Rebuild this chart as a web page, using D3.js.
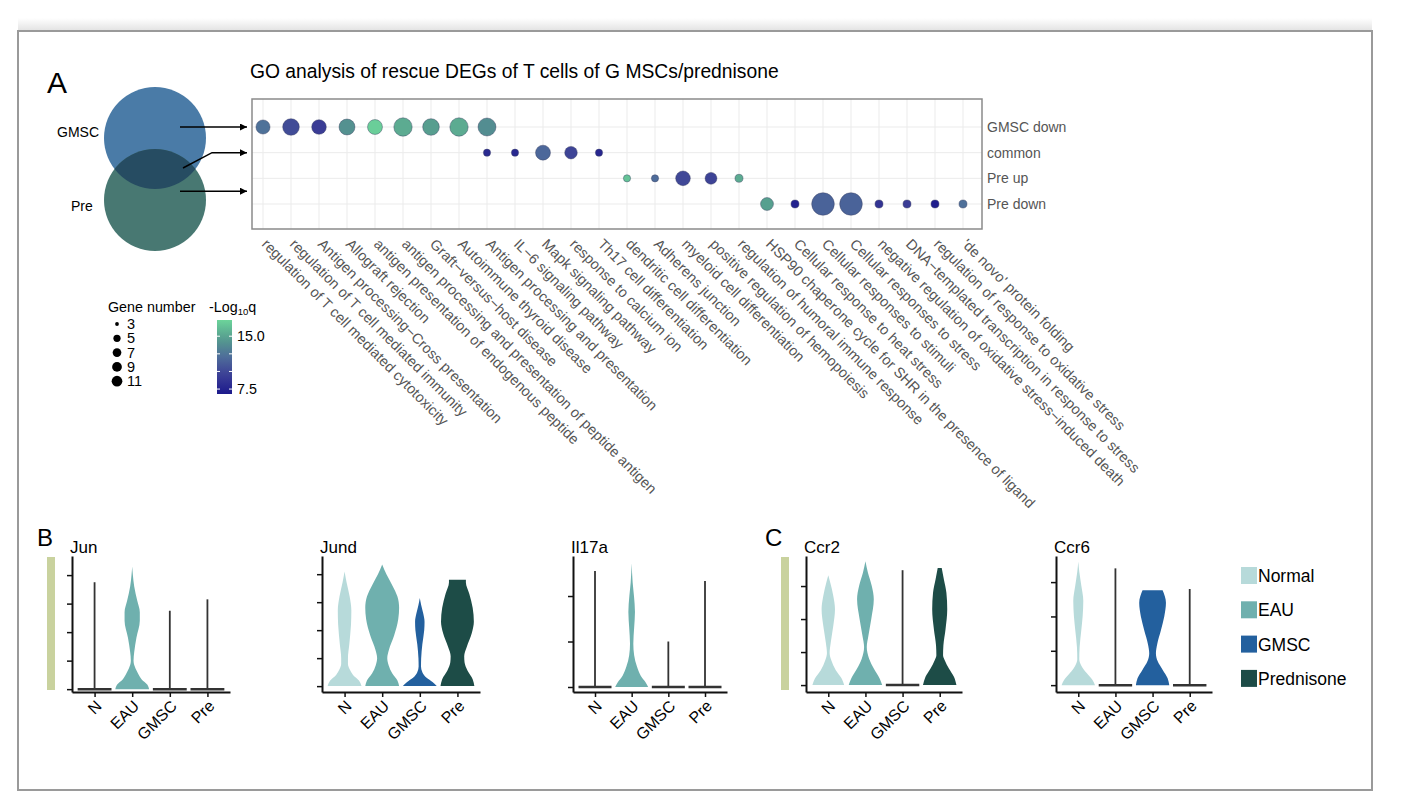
<!DOCTYPE html>
<html>
<head>
<meta charset="utf-8">
<script src="https://cdn.jsdelivr.net/npm/d3@7/dist/d3.min.js"></script>
<style>
    body { margin: 0; background: #fff; }
    svg { font-family: "Liberation Sans", Arial, sans-serif; }
</style>
</head>
<body>
<div id="fig"></div>
<script>
// ---- panel A: GO dot plot ----
var goTerms = [
    "regulation of T cell mediated cytotoxicity",
    "regulation of T cell mediated immunity",
    "Antigen processing\u2212Cross presentation",
    "Allograft rejection",
    "antigen presentation of endogenous peptide",
    "antigen processing and presentation of peptide antigen",
    "Graft\u2212versus\u2212host disease",
    "Autoimmune thyroid disease",
    "Antigen processing and presentation",
    "IL\u22126 signaling pathway",
    "Mapk signaling pathway",
    "response to calcium ion",
    "Th17 cell differentiation",
    "dendritic cell differentiation",
    "Adherens junction",
    "myeloid cell differentiation",
    "positive regulation of hemopoiesis",
    "regulation of humoral immune response",
    "HSP90 chaperone cycle for SHR in the presence of ligand",
    "Cellular response to heat stress",
    "Cellular responses to stimuli",
    "Cellular responses to stress",
    "negative regulation of oxidative stress\u2212induced death",
    "DNA\u2212templated transcription in response to stress",
    "regulation of response to oxidative stress",
    "'de novo' protein folding"
];
var rowNames = ["GMSC down", "common", "Pre up", "Pre down"];

var gmscDownTerms = [0, 1, 2, 3, 4, 5, 6, 7, 8];
var gmscDownGenes = [21, 31, 23, 28, 24, 39, 31, 39, 37];
var gmscDownLogQ = [12.3, 10.2, 9.3, 14.0, 17.0, 15.3, 14.7, 15.3, 13.8];

var commonTerms = [8, 9, 10, 11, 12];
var commonGenes = [5, 5, 24, 16, 5];
var commonLogQ = [8.0, 7.8, 11.7, 9.8, 7.7];

var preUpTerms = [13, 14, 15, 16, 17];
var preUpGenes = [5, 5, 23, 14, 6];
var preUpLogQ = [16.5, 12.0, 10.0, 9.7, 15.3];

var preDownTerms = [18, 19, 20, 21, 22, 23, 24, 25];
var preDownGenes = [17, 6, 63, 63, 6, 6, 6, 6];
var preDownLogQ = [14.8, 7.4, 11.5, 11.5, 8.7, 9.3, 7.1, 12.2];

var sizeBreaks = [3, 5, 7, 9, 11];
var colorBreaks = [15.0, 7.5];
var colorTicks = [7.5, 10, 12.5, 15];

var vennSets = ["GMSC", "Pre"];

// ---- panels B / C: violins ----
var vlnGroups = ["N", "EAU", "GMSC", "Pre"];
var legendNames = ["Normal", "EAU", "GMSC", "Prednisone"];
var vlnColors = ["#b7dada", "#6fb0ae", "#23609e", "#1d4c47"];

var geneNames = ["Jun", "Jund", "Il17a", "Ccr2", "Ccr6"];
var geneTicks = [[0, 1, 2, 3, 4], [0, 1, 2, 3, 4], [0, 1, 2], [0, 1, 2, 3], [0, 1, 2, 3]];
var geneDomains = [[-0.1, 4.67], [-0.21, 4.65], [-0.11, 2.88], [-0.21, 3.91], [-0.2, 3.76]];

// a number = nearly all zero, a thin spike up to that value
// an array = [expression, relative half width]
var junViolins = [3.75,
    [[0, 1], [0.15, 0.9], [0.35, 0.55], [0.6, 0.3], [0.85, 0.12], [1.0, 0.08], [1.3, 0.12], [1.8, 0.25],
     [2.4, 0.45], [2.7, 0.45], [3.1, 0.3], [3.6, 0.12], [4.0, 0.04], [4.3, 0]],
    2.75, 3.15];
var jundViolins = [
    [[0, 1], [0.2, 0.85], [0.4, 0.5], [0.6, 0.3], [0.8, 0.2], [1.0, 0.2], [1.5, 0.28], [2.2, 0.38],
     [2.7, 0.4], [3.2, 0.3], [3.7, 0.12], [4.1, 0]],
    [[0, 1], [0.2, 0.9], [0.45, 0.6], [0.75, 0.38], [1.0, 0.3], [1.3, 0.4], [1.8, 0.7], [2.4, 0.95],
     [2.8, 1.0], [3.2, 0.9], [3.6, 0.6], [4.0, 0.25], [4.35, 0]],
    [[0, 1], [0.15, 0.75], [0.3, 0.4], [0.5, 0.15], [0.7, 0.07], [1.0, 0.08], [1.5, 0.15], [2.0, 0.26],
     [2.3, 0.28], [2.6, 0.2], [2.9, 0.08], [3.15, 0]],
    [[0, 1], [0.25, 0.9], [0.55, 0.6], [0.85, 0.42], [1.07, 0.4], [1.4, 0.55], [1.9, 0.85], [2.3, 0.97],
     [2.8, 0.9], [3.3, 0.7], [3.7, 0.5], [3.8, 0.5]]
];
var il17aViolins = [2.55,
    [[0, 1], [0.1, 0.85], [0.25, 0.55], [0.45, 0.32], [0.7, 0.15], [0.95, 0.1], [1.3, 0.15], [1.65, 0.2],
     [2.0, 0.14], [2.3, 0.06], [2.72, 0]],
    1.0, 2.33];
var ccr2Violins = [
    [[0, 0.95], [0.2, 0.8], [0.45, 0.45], [0.75, 0.18], [0.97, 0.08], [1.3, 0.15], [1.8, 0.3], [2.3, 0.4],
     [2.7, 0.3], [3.1, 0.12], [3.33, 0]],
    [[0, 1], [0.2, 0.85], [0.5, 0.5], [0.8, 0.22], [1.15, 0.08], [1.5, 0.18], [2.0, 0.35], [2.6, 0.5],
     [3.0, 0.38], [3.4, 0.15], [3.75, 0]],
    3.48,
    [[0, 1], [0.25, 0.85], [0.5, 0.55], [0.75, 0.3], [0.9, 0.2], [1.2, 0.22], [1.7, 0.35], [2.3, 0.45],
     [2.8, 0.4], [3.2, 0.25], [3.55, 0.12]]
];
var ccr6Violins = [
    [[0, 1], [0.15, 0.85], [0.35, 0.5], [0.55, 0.2], [0.75, 0.06], [1.1, 0.08], [1.6, 0.18], [2.0, 0.26],
     [2.45, 0.3], [2.9, 0.18], [3.3, 0.06], [3.6, 0]],
    3.4,
    [[0, 1], [0.2, 0.9], [0.45, 0.6], [0.7, 0.3], [0.93, 0.2], [1.2, 0.28], [1.6, 0.5], [2.0, 0.7],
     [2.4, 0.8], [2.76, 0.6]],
    2.8
];
var geneViolins = [junViolins, jundViolins, il17aViolins, ccr2Violins, ccr6Violins];

// plot extents (layout only)
var plotX = [[72, 230], [322, 480], [573, 727], [806, 962], [1056, 1212]];

window.onload = function () {
    drawFigure();
}

function drawFigure() {
    var svg = d3.select("#fig").append("svg")
        .attr("width", 1406)
        .attr("height", 810);

    var defs = svg.append("defs");

    // frame with a soft shadow on top
    var sh = defs.append("linearGradient").attr("id", "shadow")
        .attr("x1", 0).attr("y1", 0).attr("x2", 0).attr("y2", 1);
    sh.append("stop").attr("offset", "0%").attr("stop-color", "#ffffff");
    sh.append("stop").attr("offset", "100%").attr("stop-color", "#e2e2e2");
    svg.append("rect").attr("x", 18).attr("y", 18).attr("width", 1354).attr("height", 13)
        .attr("fill", "url(#shadow)");
    svg.append("rect").attr("x", 18).attr("y", 31).attr("width", 1354).attr("height", 759)
        .attr("fill", "#fff").attr("stroke", "#9a9a9a").attr("stroke-width", 2);

    // ---------- A ----------
    svg.append("text").attr("x", 47).attr("y", 93).attr("font-size", 30).text("A");
    svg.append("text").attr("x", 250).attr("y", 78).attr("font-size", 19.3)
        .text("GO analysis of rescue DEGs of T cells of G MSCs/prednisone");

    var xScale = d3.scalePoint().domain(d3.range(goTerms.length)).range([263, 963]);
    var yScale = d3.scalePoint().domain(rowNames).range([127, 204]);
    var boxL = 252, boxR = 982, boxT = 99, boxB = 229;

    var sizeScale = d3.scaleSqrt().domain([0, 61]).range([0, 9.5]);
    function radius(n) { return 1.9 + sizeScale(n - 3); }
    var color = d3.scaleLinear()
        .domain([6.8, 9.5, 12, 14.5, 17.3])
        .range(["#1c1a8c", "#3c3f96", "#4e6c9a", "#559a8e", "#6cd49a"]);

    var dots = [];
    [[gmscDownTerms, gmscDownGenes, gmscDownLogQ],
     [commonTerms, commonGenes, commonLogQ],
     [preUpTerms, preUpGenes, preUpLogQ],
     [preDownTerms, preDownGenes, preDownLogQ]].forEach(function (s, r) {
        s[0].forEach(function (t, i) {
            dots.push({ term: t, row: rowNames[r], genes: s[1][i], q: s[2][i] });
        });
    });

    var plot = svg.append("g");
    plot.selectAll(".vgrid").data(xScale.domain()).enter().append("line")
        .attr("x1", function (d) { return xScale(d); })
        .attr("x2", function (d) { return xScale(d); })
        .attr("y1", boxT).attr("y2", boxB)
        .attr("stroke", "#ebebeb").attr("stroke-width", 1);
    plot.selectAll(".hgrid").data(rowNames).enter().append("line")
        .attr("x1", boxL).attr("x2", boxR)
        .attr("y1", function (d) { return yScale(d); })
        .attr("y2", function (d) { return yScale(d); })
        .attr("stroke", "#ebebeb").attr("stroke-width", 1);

    plot.selectAll("circle").data(dots).enter().append("circle")
        .attr("cx", function (d) { return xScale(d.term); })
        .attr("cy", function (d) { return yScale(d.row); })
        .attr("r", function (d) { return radius(d.genes); })
        .attr("fill", function (d) { return color(d.q); })
        .attr("stroke", "#3a3f60").attr("stroke-width", 0.6).attr("stroke-opacity", 0.7);

    plot.append("rect").attr("x", boxL).attr("y", boxT)
        .attr("width", boxR - boxL).attr("height", boxB - boxT)
        .attr("fill", "none").attr("stroke", "#8a8a8a").attr("stroke-width", 1.5);

    plot.selectAll(".rowlab").data(rowNames).enter().append("text")
        .attr("x", boxR + 5)
        .attr("y", function (d) { return yScale(d); })
        .attr("dy", "0.35em")
        .attr("font-size", 14).attr("fill", "#555")
        .text(function (d) { return d; });

    plot.selectAll(".golab").data(goTerms).enter().append("text")
        .attr("transform", function (d, i) {
            return "translate(" + (xScale(i) - 2) + "," + (boxB + 16) + ") rotate(45)";
        })
        .attr("font-size", 14.5).attr("fill", "#555")
        .text(function (d) { return d; });

    // Venn
    var vy = d3.scalePoint().domain(vennSets).range([138, 200]);
    var vcx = 155, vr = 51;
    var vennColors = ["#4a7ba7", "#487872"];
    svg.selectAll(".venn").data(vennSets).enter().append("circle")
        .attr("cx", vcx).attr("cy", function (d) { return vy(d); }).attr("r", vr)
        .attr("fill", function (d, i) { return vennColors[i]; });
    defs.append("clipPath").attr("id", "clipG").append("circle")
        .attr("cx", vcx).attr("cy", vy("GMSC")).attr("r", vr);
    svg.append("circle").attr("cx", vcx).attr("cy", vy("Pre")).attr("r", vr)
        .attr("clip-path", "url(#clipG)").attr("fill", "#264c62");
    svg.append("text").attr("x", 57).attr("y", vy("GMSC") - 1).attr("font-size", 14).text("GMSC");
    svg.append("text").attr("x", 71).attr("y", vy("Pre") + 11).attr("font-size", 14).text("Pre");

    defs.append("marker").attr("id", "arrow").attr("viewBox", "0 0 10 10")
        .attr("refX", 10).attr("refY", 5).attr("markerWidth", 7).attr("markerHeight", 7)
        .attr("markerUnits", "userSpaceOnUse").attr("orient", "auto")
        .append("path").attr("d", "M0,0L10,5L0,10Z").attr("fill", "#000");
    var arrowEnd = boxL - 5;
    var arrows = [
        [[180, yScale("GMSC down")], [arrowEnd, yScale("GMSC down")]],
        [[183, 168], [212, yScale("common")], [arrowEnd, yScale("common")]],
        [[180, (yScale("Pre up") + yScale("Pre down")) / 2], [arrowEnd, (yScale("Pre up") + yScale("Pre down")) / 2]]
    ];
    svg.selectAll(".arrow").data(arrows).enter().append("path")
        .attr("d", d3.line())
        .attr("fill", "none").attr("stroke", "#000").attr("stroke-width", 1.5)
        .attr("marker-end", "url(#arrow)");

    // size legend
    var leg = svg.append("g");
    leg.append("text").attr("x", 108).attr("y", 312).attr("font-size", 14.3).text("Gene number");
    leg.selectAll(".sz").data(sizeBreaks).enter().append("circle")
        .attr("cx", 117).attr("cy", function (d, i) { return 324 + i * 14.3; })
        .attr("r", radius).attr("fill", "#000");
    leg.selectAll(".szl").data(sizeBreaks).enter().append("text")
        .attr("x", 127).attr("y", function (d, i) { return 324 + i * 14.3; })
        .attr("dy", "0.35em").attr("font-size", 14.5).text(function (d) { return d; });

    // colour bar
    var cbY = d3.scaleLinear().domain([6.8, 17.3]).range([394, 320]);
    var grad = defs.append("linearGradient").attr("id", "cbar")
        .attr("x1", 0).attr("y1", 1).attr("x2", 0).attr("y2", 0);
    d3.range(0, 1.001, 0.1).forEach(function (t) {
        grad.append("stop").attr("offset", (t * 100) + "%")
            .attr("stop-color", color(6.8 + t * (17.3 - 6.8)));
    });
    var ct = leg.append("text").attr("x", 209).attr("y", 312).attr("font-size", 14.3);
    ct.append("tspan").text("-Log");
    ct.append("tspan").attr("font-size", 9.5).attr("dy", 3).text("10");
    ct.append("tspan").attr("dy", -3).text("q");
    leg.append("rect").attr("x", 217).attr("y", 320).attr("width", 15).attr("height", 74)
        .attr("fill", "url(#cbar)");
    colorTicks.forEach(function (v) {
        leg.append("line").attr("x1", 217).attr("x2", 220).attr("y1", cbY(v)).attr("y2", cbY(v))
            .attr("stroke", "#fff").attr("stroke-width", 1);
        leg.append("line").attr("x1", 229).attr("x2", 232).attr("y1", cbY(v)).attr("y2", cbY(v))
            .attr("stroke", "#fff").attr("stroke-width", 1);
    });
    leg.selectAll(".cbl").data(colorBreaks).enter().append("text")
        .attr("x", 237).attr("y", function (d) { return cbY(d); })
        .attr("dy", "0.35em").attr("font-size", 14.3)
        .text(function (d) { return d.toFixed(1); });

    // ---------- B / C ----------
    svg.append("text").attr("x", 37).attr("y", 546).attr("font-size", 24).text("B");
    svg.append("text").attr("x", 765).attr("y", 546).attr("font-size", 24).text("C");
    [47, 781].forEach(function (bx) {
        svg.append("rect").attr("x", bx).attr("y", 557).attr("width", 8).attr("height", 133)
            .attr("fill", "#c9d29e");
    });

    geneNames.forEach(function (name, k) {
        var xs = d3.scalePoint().domain(vlnGroups).range(plotX[k]).padding(0.6);
        var ys = d3.scaleLinear().domain(geneDomains[k]).range([692, 556]);
        var hw = xs.step() * 0.45;
        var g = svg.append("g");

        geneViolins[k].forEach(function (v, i) {
            var cx = xs(vlnGroups[i]);
            if (typeof v === "number") {
                g.append("line").attr("x1", cx).attr("x2", cx).attr("y1", ys(0)).attr("y2", ys(v))
                    .attr("stroke", "#333").attr("stroke-width", 1.8);
                g.append("line").attr("x1", cx - hw).attr("x2", cx + hw).attr("y1", ys(0)).attr("y2", ys(0))
                    .attr("stroke", "#333").attr("stroke-width", 2.5);
            } else {
                var area = d3.area().curve(d3.curveMonotoneY)
                    .y(function (d) { return ys(d[0]); })
                    .x0(function (d) { return cx - d[1] * hw; })
                    .x1(function (d) { return cx + d[1] * hw; });
                g.append("path").datum(v).attr("d", area).attr("fill", vlnColors[i]);
            }
        });

        g.append("g").attr("transform", "translate(" + plotX[k][0] + ",0)")
            .call(d3.axisLeft(ys).tickValues(geneTicks[k]).tickFormat("").tickSize(5).tickSizeOuter(0));
        g.append("g").attr("transform", "translate(0,692)")
            .call(d3.axisBottom(xs).tickFormat("").tickSize(5).tickSizeOuter(0));
        g.selectAll(".domain").attr("stroke", "#111").attr("stroke-width", 2);
        g.selectAll(".tick line").attr("stroke", "#111").attr("stroke-width", 1.5);

        g.selectAll(".xl").data(vlnGroups).enter().append("text")
            .attr("transform", function (d) {
                return "translate(" + (xs(d) + 8) + ",707) rotate(-45)";
            })
            .attr("text-anchor", "end").attr("font-size", 16)
            .text(function (d) { return d; });

        g.append("text").attr("x", plotX[k][0] - 2).attr("y", 553).attr("font-size", 17).text(name);
    });

    // group legend
    var gl = svg.append("g");
    gl.selectAll("rect").data(legendNames).enter().append("rect")
        .attr("x", 1241).attr("y", function (d, i) { return 567 + i * 34.3; })
        .attr("width", 16).attr("height", 17)
        .attr("fill", function (d, i) { return vlnColors[i]; });
    gl.selectAll("text").data(legendNames).enter().append("text")
        .attr("x", 1258).attr("y", function (d, i) { return 576 + i * 34.3; })
        .attr("dy", "0.35em").attr("font-size", 17.5)
        .text(function (d) { return d; });
}
</script>
</body>
</html>
